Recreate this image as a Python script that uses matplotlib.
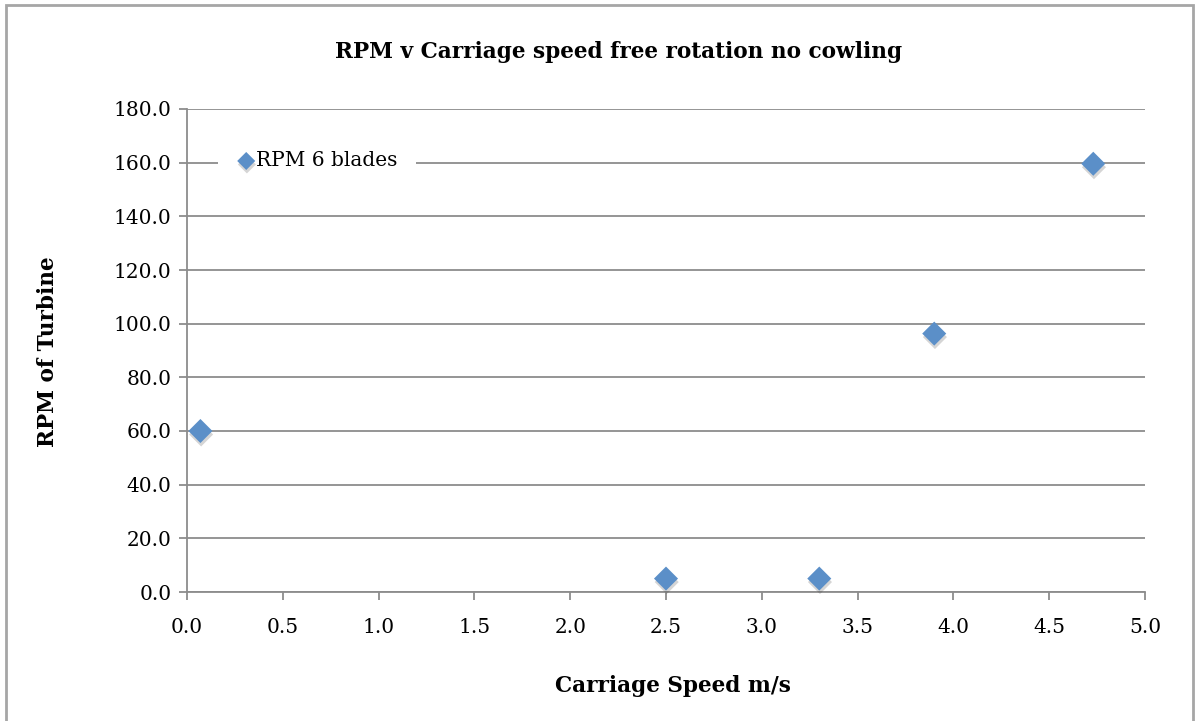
import matplotlib
matplotlib.use("Agg")
import matplotlib.pyplot as plt
import matplotlib.patheffects as pe
from matplotlib.patches import Rectangle

speed = [0.07, 2.5, 3.3, 3.9, 4.73]
rpm = [60.0, 5.0, 5.0, 96.3, 159.6]
x_ticks = [0.0, 0.5, 1.0, 1.5, 2.0, 2.5, 3.0, 3.5, 4.0, 4.5, 5.0]
y_ticks = [0, 20, 40, 60, 80, 100, 120, 140, 160, 180]
series_name = "RPM 6 blades"

serif = "DejaVu Serif"
grey = "#8c8c8c"
blue = "#5b8fc8"

fig = plt.figure(figsize=(11.95, 7.21), dpi=100)
fig.patches.append(Rectangle((6 / 1195, -0.01), 1187 / 1195, 1 - 5 / 721 + 0.01,
                             transform=fig.transFigure, fill=False,
                             edgecolor="#a6a6a6", linewidth=2))

ax = fig.add_axes([187 / 1195, 1 - 592 / 721, 958 / 1195, 483 / 721])
ax.set_xlim(0, 5)
ax.set_ylim(0, 180)
ax.set_xticks(x_ticks)
ax.set_yticks(y_ticks)
ax.set_xticklabels([f"{v:.1f}" for v in x_ticks], fontfamily=serif, fontsize=14.5)
ax.set_yticklabels([f"{v:.1f}" for v in y_ticks], fontfamily=serif, fontsize=14.5)
ax.tick_params(axis="both", direction="out", length=6, width=1.3, color=grey)
ax.tick_params(axis="x", pad=13)
ax.tick_params(axis="y", pad=5)
ax.yaxis.grid(True, color=grey, linewidth=1.3)
ax.set_axisbelow(True)
for s in ["top", "right"]:
    ax.spines[s].set_visible(False)
for s in ["left", "bottom"]:
    ax.spines[s].set_color(grey)
    ax.spines[s].set_linewidth(1.3)

ax.scatter(speed, rpm, marker="D", s=150, color=blue, edgecolors="none",
           label=series_name, zorder=3, clip_on=False,
           path_effects=[pe.SimplePatchShadow(offset=(0.5, -2.5), alpha=0.22, shadow_rgbFace="#444444"),
                         pe.Normal()])

leg = ax.legend(loc="upper left", bbox_to_anchor=(0.045, 0.925), frameon=True,
                prop={"family": serif, "size": 14.5}, handletextpad=0.0,
                borderpad=0.3, handlelength=1.0, markerscale=0.75, borderaxespad=0)
leg.get_frame().set_edgecolor("none")
leg.get_frame().set_facecolor("white")
leg.get_frame().set_alpha(1)
leg.get_frame().set_boxstyle("square", pad=0.6)

fig.text(619 / 1195, 1 - 52 / 721, "RPM v Carriage speed free rotation no cowling",
         ha="center", va="center", fontfamily=serif, fontweight="bold", fontsize=15.6)
fig.text(673 / 1195, 1 - 686 / 721, "Carriage Speed m/s", ha="center", va="center",
         fontfamily=serif, fontweight="bold", fontsize=15.6)
fig.text(48 / 1195, 1 - 352 / 721, "RPM of Turbine", ha="center", va="center",
         rotation=90, fontfamily=serif, fontweight="bold", fontsize=15.6)

fig.savefig("out.png", dpi=100, facecolor="white")
